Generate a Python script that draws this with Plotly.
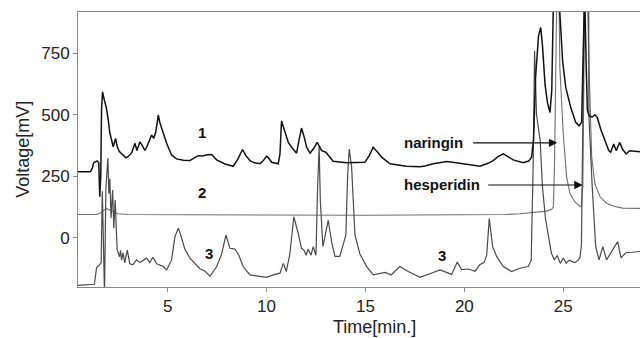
import plotly.graph_objects as go

# ---- data ----
t1 = [0.47, 1.10, 1.20, 1.26, 1.44, 1.52, 1.57, 1.62, 1.66, 1.71, 1.80, 1.90, 2.00, 2.08, 2.25, 2.37, 2.45,
      2.55, 2.89, 3.00, 3.18, 3.35, 3.45, 3.60, 3.72, 3.85, 3.95, 4.19, 4.30, 4.40, 4.53, 4.60, 4.70, 4.95,
      5.20, 5.45, 5.80, 6.13, 6.35, 6.55, 6.75, 7.00, 7.22, 7.48, 7.90, 8.32, 8.55, 8.79, 8.95, 9.16, 9.40,
      9.67, 9.85, 10.00, 10.10, 10.26, 10.59, 10.68, 10.76, 10.85, 11.10, 11.30, 11.52, 11.65, 11.77, 11.90,
      12.03, 12.20, 12.40, 12.56, 12.70, 12.79, 13.00, 13.20, 13.37, 13.70, 14.05, 14.50, 14.97, 15.20, 15.39,
      15.60, 15.82, 16.24, 16.60, 17.08, 17.76, 18.00, 18.43, 19.10, 19.50, 19.95, 20.40, 20.79, 21.20, 21.46,
      21.70, 21.97, 22.20, 22.47, 22.98, 23.25, 23.40, 23.50, 23.60, 23.75, 23.86, 23.95, 24.08, 24.20, 24.33,
      24.42, 24.50, 24.65, 24.80, 24.90, 24.97, 25.13, 25.38, 25.63, 25.80, 25.93, 26.00, 26.08, 26.16, 26.22,
      26.30, 26.45, 26.60, 26.72, 26.90, 27.12, 27.30, 27.40, 27.55, 27.68, 27.85, 28.00, 28.18, 28.35, 28.55,
      28.88]
v1 = [269, 269, 285, 305, 313, 305, 167, 250, 519, 593, 560, 530, 478, 426, 370, 404, 372,
      352, 325, 330, 345, 384, 355, 390, 375, 355, 370, 418, 404, 430, 499, 470, 445, 384,
      337, 321, 315, 314, 325, 334, 333, 338, 339, 317, 300, 291, 320, 359, 335, 314, 305,
      301, 315, 332, 325, 307, 301, 340, 475, 450, 388, 365, 344, 400, 446, 410,
      368, 344, 365, 388, 370, 354, 348, 330, 311, 308, 305, 306, 307, 335, 368,
      350, 328, 301, 296, 291, 289, 292, 301, 310, 306, 301, 296, 291, 303, 314,
      330, 341, 330, 317, 305, 312, 328, 400, 650, 820, 854, 780, 623, 550, 509,
      600, 950, 1100, 950, 800, 717, 610, 529, 469, 455, 470, 650, 1000, 700, 520,
      496, 490, 500, 489, 440, 395, 355, 348, 381, 354, 388, 360, 341, 354, 352,
      350]

t2 = [0.47, 1.40, 1.55, 1.70, 1.90, 2.10, 2.30, 2.50, 3.00, 5.00, 10.00, 15.00, 20.00, 22.00, 22.81, 23.50,
      24.16, 24.41, 24.50, 24.56, 24.62, 24.70, 24.78, 24.83, 25.00, 25.17, 25.34, 25.59, 25.84, 25.90,
      25.99, 26.06, 26.18, 26.30, 26.44, 26.60, 26.86, 27.20, 27.70, 28.00, 28.88]
v2 = [95, 95, 99, 108, 120, 112, 104, 98, 95, 94, 93, 92, 93, 95, 98, 103,
      109, 116, 125, 300, 800, 1150, 1000, 690, 422, 247, 180, 146, 129, 126,
      211, 800, 1150, 700, 328, 220, 167, 140, 126, 121, 120]

t3 = [0.47, 1.30, 1.36, 1.41, 1.55, 1.64, 1.70, 1.76, 1.81, 1.88, 1.98, 2.03, 2.08, 2.14, 2.22, 2.28, 2.35,
      2.45, 2.57, 2.62, 2.67, 2.75, 2.83, 2.96, 3.09, 3.24, 3.43, 3.60, 3.94, 4.10, 4.25, 4.45, 4.78, 4.95,
      5.20, 5.37, 5.54, 5.67, 5.87, 6.13, 6.38, 6.63, 6.90, 7.14, 7.48, 7.73, 7.95, 8.15, 8.40, 8.60, 8.82,
      9.16, 9.67, 10.00, 10.34, 10.68, 10.85, 11.00, 11.18, 11.38, 11.60, 11.77, 11.90, 12.00, 12.10, 12.25,
      12.36, 12.50, 12.58, 12.66, 12.72, 12.85, 13.12, 13.30, 13.46, 13.70, 13.90, 14.01, 14.10, 14.18, 14.30,
      14.47, 14.72, 15.06, 15.40, 15.82, 16.00, 16.30, 16.74, 17.16, 17.76, 18.43, 18.77, 19.36, 19.64, 19.86,
      20.20, 20.54, 20.79, 21.00, 21.13, 21.26, 21.43, 21.63, 21.97, 22.39, 22.81, 23.23, 23.38, 23.48, 23.55,
      23.65, 23.83, 23.95, 24.10, 24.20, 24.28, 24.40, 24.55, 24.70, 24.85, 25.00, 25.15, 25.30, 25.45, 25.60,
      25.75, 25.84, 25.92, 26.00, 26.08, 26.28, 26.30, 26.47, 26.64, 26.81, 27.00, 27.19, 27.40, 27.75, 27.92,
      28.16, 28.50, 28.88]
v3 = [-192, -188, -150, -120, -110, -100, 190, -60, -230, 200, 323, 180, 240, 80, 195, 40, 154,
      -49, -76, -50, -90, -60, -101, -49, -105, -109, -89, -100, -82, -100, -78, -105, -116, -130,
      -89, 5, 40, 10, -45, -82, -105, -125, -135, -156, -116, -65, 12, -42, -45, -70, -116,
      -150, -156, -160, -150, -143, -103, -136, -65, 86, 20, -42, -50, -70, -45, -70,
      -35, -70, 200, 370, 150, -35, 72, -20, -75, -75, -20, 12, 250, 361, 290,
      12, -65, -116, -150, -143, -140, -150, -116, -136, -160, -140, -130, -148, -98, -128,
      -126, -135, -108, -100, -70, 79, -35, -75, -116, -136, -123, -116, -90, 300, 760,
      500, 397, 207, 80, 32, 0, -61, -89, -71, -103, -82, -103, -90, -96, -100,
      -90, -80, -30, 600, 1100, 1100, 490, 200, -35, -89, -35, -89, -60, -15, -81,
      -60, -58, -55]

y_ticks = [0, 250, 500, 750]
x_ticks = [5, 10, 15, 20, 25]
curve_labels = ["1", "2", "3", "3"]
curve_label_t = [6.74, 6.74, 7.09, 18.85]
curve_label_v = [427, 184, -64, -72]
peak_names = ["naringin", "hesperidin"]
peak_text_t = [16.83, 16.83]
peak_tail_t = [20.37, 21.13]
peak_tip_t = [24.70, 25.98]
peak_v = [386, 215]

FONT = "Liberation Sans, Arial, Helvetica, sans-serif"

fig = go.Figure()
fig.add_trace(go.Scatter(x=t2, y=v2, mode="lines", line=dict(color="#707070", width=1.1), showlegend=False))
fig.add_trace(go.Scatter(x=t3, y=v3, mode="lines", line=dict(color="#4a4a4a", width=1.2), showlegend=False))
fig.add_trace(go.Scatter(x=t1, y=v1, mode="lines", line=dict(color="#111111", width=1.5), showlegend=False))

ann = []
for s, tt, vv in zip(curve_labels, curve_label_t, curve_label_v):
    ann.append(dict(x=tt, y=vv, xref="x", yref="y", text="<b>%s</b>" % s, showarrow=False,
                    xanchor="center", yanchor="middle",
                    font=dict(family=FONT, size=15, color="#111")))
for name, tx, tail, tip, vv in zip(peak_names, peak_text_t, peak_tail_t, peak_tip_t, peak_v):
    ann.append(dict(x=tx, y=vv, xref="x", yref="y", text="<b>%s</b>" % name, showarrow=False,
                    xanchor="left", yanchor="middle", font=dict(family=FONT, size=15, color="#111")))
    ann.append(dict(x=tip, y=vv, ax=tail, ay=vv, xref="x", yref="y", axref="x", ayref="y",
                    text="", showarrow=True, arrowhead=2, arrowsize=1.4, arrowwidth=1.2,
                    arrowcolor="#111"))
ann.append(dict(x=0.528, y=-0.145, xref="paper", yref="paper", text="Time[min.]", showarrow=False,
                xanchor="center", yanchor="middle",
                font=dict(family=FONT, size=18, color="#222")))
ann.append(dict(x=-0.098, y=0.502, xref="paper", yref="paper", text="Voltage[mV]", showarrow=False,
                xanchor="center", yanchor="middle",
                textangle=-90, font=dict(family=FONT, size=18, color="#222")))

fig.update_layout(
    width=640, height=338,
    margin=dict(l=78, r=0, t=12, b=51),
    paper_bgcolor="white", plot_bgcolor="white",
    annotations=ann,
    hovermode=False,
    font=dict(family=FONT, size=17, color="#222"),
)
fig.update_xaxes(range=[0.47, 28.88], tickvals=x_ticks, showgrid=False, zeroline=False,
                 showline=True, linecolor="#888", linewidth=1, mirror=True,
                 ticks="outside", ticklen=4, tickcolor="#888", tickfont=dict(size=17))
fig.update_yaxes(range=[-199, 917], tickvals=y_ticks, showgrid=False, zeroline=False,
                 showline=True, linecolor="#888", linewidth=1, mirror=False,
                 ticks="outside", ticklen=4, tickcolor="#888", tickfont=dict(size=17))

fig.write_html("out.html", config={"displayModeBar": False, "staticPlot": True},
               post_script="document.body.style.margin='0';")
